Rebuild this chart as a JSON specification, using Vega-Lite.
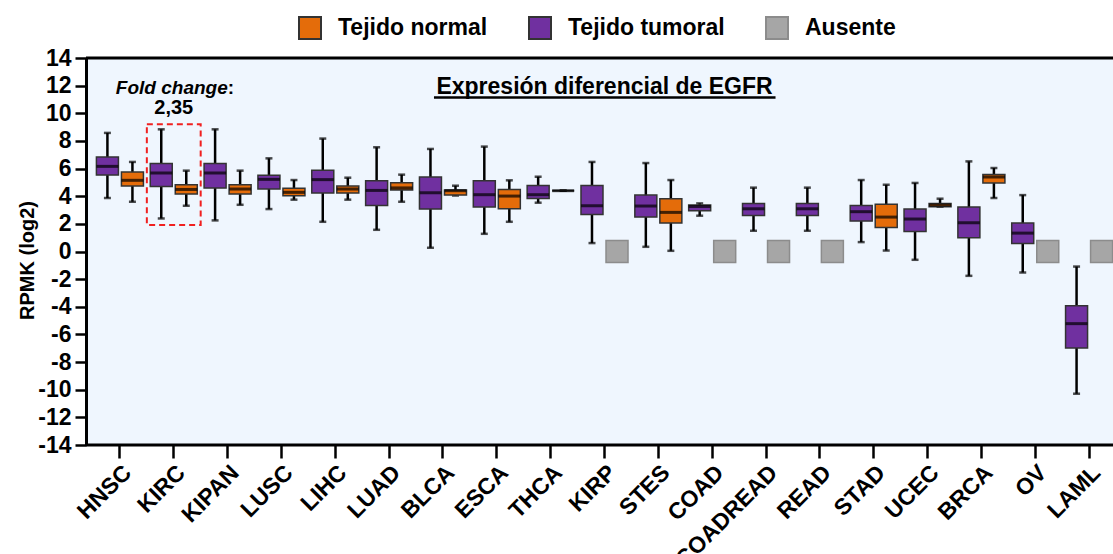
{
  "$schema": "https://vega.github.io/schema/vega-lite/v6.json",
  "width": 1027,
  "height": 387,
  "autosize": {"type": "none"},
  "padding": {"left": 86, "top": 58, "right": 0, "bottom": 109},
  "background": "white",
  "config": {
    "font": "Liberation Sans",
    "view": {"fill": "#EFF6FE", "stroke": null},
    "axisY": {"tickCount": 15, "labelOverlap": false},
    "legend": {
      "orient": "none",
      "legendX": 212,
      "legendY": -42,
      "direction": "horizontal",
      "symbolType": "square",
      "symbolSize": 484,
      "symbolStrokeWidth": 2,
      "symbolOpacity": 1,
      "labelFontSize": 23,
      "labelFontWeight": "bold",
      "labelColor": "black",
      "labelOffset": 16,
      "columnPadding": 37,
      "padding": 0
    }
  },
  "data": {"values": [{}]},
  "datasets": {
    "boxes": [
      {"c": "HNSC", "t": "Tejido tumoral", "lo": 3.87, "q1": 5.53, "med": 6.16, "q3": 6.84, "hi": 8.58},
      {"c": "HNSC", "t": "Tejido normal", "lo": 3.6, "q1": 4.74, "med": 5.15, "q3": 5.75, "hi": 6.48},
      {"c": "KIRC", "t": "Tejido tumoral", "lo": 2.39, "q1": 4.71, "med": 5.68, "q3": 6.36, "hi": 8.84},
      {"c": "KIRC", "t": "Tejido normal", "lo": 3.31, "q1": 4.16, "med": 4.49, "q3": 4.83, "hi": 5.85},
      {"c": "KIPAN", "t": "Tejido tumoral", "lo": 2.25, "q1": 4.59, "med": 5.68, "q3": 6.36, "hi": 8.84},
      {"c": "KIPAN", "t": "Tejido normal", "lo": 3.38, "q1": 4.16, "med": 4.52, "q3": 4.83, "hi": 5.85},
      {"c": "LUSC", "t": "Tejido tumoral", "lo": 3.07, "q1": 4.52, "med": 5.22, "q3": 5.51, "hi": 6.74},
      {"c": "LUSC", "t": "Tejido normal", "lo": 3.75, "q1": 4.04, "med": 4.28, "q3": 4.57, "hi": 5.17},
      {"c": "LIHC", "t": "Tejido tumoral", "lo": 2.15, "q1": 4.23, "med": 5.2, "q3": 5.87, "hi": 8.17},
      {"c": "LIHC", "t": "Tejido normal", "lo": 3.75, "q1": 4.23, "med": 4.52, "q3": 4.74, "hi": 5.34},
      {"c": "LUAD", "t": "Tejido tumoral", "lo": 1.57, "q1": 3.33, "med": 4.42, "q3": 5.12, "hi": 7.54},
      {"c": "LUAD", "t": "Tejido normal", "lo": 3.6, "q1": 4.45, "med": 4.6, "q3": 4.98, "hi": 5.56},
      {"c": "BLCA", "t": "Tejido tumoral", "lo": 0.27, "q1": 3.07, "med": 4.25, "q3": 5.39, "hi": 7.42},
      {"c": "BLCA", "t": "Tejido normal", "lo": 4.05, "q1": 4.08, "med": 4.4, "q3": 4.45, "hi": 4.76},
      {"c": "ESCA", "t": "Tejido tumoral", "lo": 1.28, "q1": 3.22, "med": 4.11, "q3": 5.12, "hi": 7.59},
      {"c": "ESCA", "t": "Tejido normal", "lo": 2.15, "q1": 3.09, "med": 4.01, "q3": 4.49, "hi": 5.15},
      {"c": "THCA", "t": "Tejido tumoral", "lo": 3.53, "q1": 3.84, "med": 4.11, "q3": 4.78, "hi": 5.41},
      {"c": "THCA", "t": "Tejido normal", "lo": 4.4, "q1": 4.4, "med": 4.4, "q3": 4.4, "hi": 4.4},
      {"c": "KIRP", "t": "Tejido tumoral", "lo": 0.61, "q1": 2.68, "med": 3.31, "q3": 4.78, "hi": 6.48},
      {"c": "STES", "t": "Tejido tumoral", "lo": 0.34, "q1": 2.49, "med": 3.29, "q3": 4.08, "hi": 6.4},
      {"c": "STES", "t": "Tejido normal", "lo": 0.05, "q1": 2.06, "med": 2.83, "q3": 3.82, "hi": 5.17},
      {"c": "COAD", "t": "Tejido tumoral", "lo": 2.59, "q1": 2.95, "med": 3.26, "q3": 3.36, "hi": 3.48},
      {"c": "COADREAD", "t": "Tejido tumoral", "lo": 1.5, "q1": 2.61, "med": 3.09, "q3": 3.48, "hi": 4.62},
      {"c": "READ", "t": "Tejido tumoral", "lo": 1.5, "q1": 2.61, "med": 3.09, "q3": 3.48, "hi": 4.62},
      {"c": "STAD", "t": "Tejido tumoral", "lo": 0.68, "q1": 2.2, "med": 2.88, "q3": 3.33, "hi": 5.17},
      {"c": "STAD", "t": "Tejido normal", "lo": 0.07, "q1": 1.74, "med": 2.49, "q3": 3.41, "hi": 4.83},
      {"c": "UCEC", "t": "Tejido tumoral", "lo": -0.6, "q1": 1.45, "med": 2.35, "q3": 3.07, "hi": 4.96},
      {"c": "UCEC", "t": "Tejido normal", "lo": 3.24, "q1": 3.24, "med": 3.36, "q3": 3.48, "hi": 3.82},
      {"c": "BRCA", "t": "Tejido tumoral", "lo": -1.76, "q1": 0.99, "med": 2.08, "q3": 3.22, "hi": 6.52},
      {"c": "BRCA", "t": "Tejido normal", "lo": 3.87, "q1": 4.96, "med": 5.39, "q3": 5.58, "hi": 6.04},
      {"c": "OV", "t": "Tejido tumoral", "lo": -1.52, "q1": 0.58, "med": 1.33, "q3": 2.06, "hi": 4.08},
      {"c": "LAML", "t": "Tejido tumoral", "lo": -10.29, "q1": -6.98, "med": -5.22, "q3": -3.93, "hi": -1.09}
    ],
    "absent": [
      {"c": "KIRP", "t": "Ausente"},
      {"c": "COAD", "t": "Ausente"},
      {"c": "COADREAD", "t": "Ausente"},
      {"c": "READ", "t": "Ausente"},
      {"c": "OV", "t": "Ausente"},
      {"c": "LAML", "t": "Ausente"}
    ]
  },
  "layer": [
    {
      "data": {"name": "boxes"},
      "mark": {"type": "rule", "color": "black", "strokeWidth": 2.5},
      "encoding": {
        "x": {
          "field": "c", "type": "nominal", "sort": null,
          "scale": {
            "domain": ["HNSC","KIRC","KIPAN","LUSC","LIHC","LUAD","BLCA","ESCA","THCA","KIRP","STES","COAD","COADREAD","READ","STAD","UCEC","BRCA","OV","LAML"],
            "range": [7, 1030], "paddingInner": 0, "paddingOuter": 0
          },
          "axis": {
            "title": null, "domain": false, "labelAngle": -45, "labelFontSize": 23, "labelFontWeight": "bold",
            "labelColor": "black", "labelOverlap": false, "tickColor": "black", "tickWidth": 2.5, "tickSize": 13,
            "labelPadding": 3, "bandPosition": 0.5
          }
        },
        "xOffset": {
          "field": "t", "type": "nominal",
          "scale": {"domain": ["Tejido tumoral", "Tejido normal"], "paddingInner": 0, "paddingOuter": 0.076}
        },
        "y": {
          "field": "lo", "type": "quantitative",
          "scale": {"domain": [-14, 14], "nice": false, "zero": false},
          "axis": {
            "values": [-14,-12,-10,-8,-6,-4,-2,0,2,4,6,8,10,12,14],
            "tickCount": 15,
            "labelExpr": "replace(datum.label, '−', '-')",
            "title": "RPMK (log2)", "titleFontSize": 20, "titleFontWeight": "bold", "titleColor": "black",
            "titleX": -49, "titleY": 202, "titleBaseline": "bottom", "titleAlign": "center", "titleAngle": -90,
            "labelFontSize": 23, "labelFontWeight": "bold", "labelColor": "black", "labelOverlap": false,
            "tickColor": "black", "tickWidth": 2.5, "tickSize": 11, "labelPadding": 4,
            "domainColor": "black", "domainWidth": 3, "grid": false
          }
        },
        "y2": {"field": "hi"}
      }
    },
    {
      "data": {"name": "boxes"},
      "mark": {"type": "tick", "color": "black", "size": 7, "thickness": 2.5},
      "encoding": {
        "x": {"field": "c", "type": "nominal"},
        "xOffset": {"field": "t", "type": "nominal"},
        "y": {"field": "lo", "type": "quantitative"}
      }
    },
    {
      "data": {"name": "boxes"},
      "mark": {"type": "tick", "color": "black", "size": 7, "thickness": 2.5},
      "encoding": {
        "x": {"field": "c", "type": "nominal"},
        "xOffset": {"field": "t", "type": "nominal"},
        "y": {"field": "hi", "type": "quantitative"}
      }
    },
    {
      "data": {"name": "boxes"},
      "mark": {"type": "bar", "width": 22, "strokeWidth": 1.5, "opacity": 1},
      "encoding": {
        "x": {"field": "c", "type": "nominal"},
        "xOffset": {"field": "t", "type": "nominal"},
        "y": {"field": "q1", "type": "quantitative"},
        "y2": {"field": "q3"},
        "color": {
          "field": "t", "type": "nominal",
          "scale": {"domain": ["Tejido normal", "Tejido tumoral", "Ausente"], "range": ["#E46C0A", "#7030A0", "#A6A6A6"]},
          "legend": {"title": null}
        },
        "stroke": {
          "field": "t", "type": "nominal",
          "scale": {"domain": ["Tejido normal", "Tejido tumoral", "Ausente"], "range": ["#333333", "#333333", "#8C8C8C"]},
          "legend": {"title": null}
        }
      }
    },
    {
      "data": {"name": "boxes"},
      "mark": {"type": "tick", "color": "black", "size": 22, "thickness": 3},
      "encoding": {
        "x": {"field": "c", "type": "nominal"},
        "xOffset": {"field": "t", "type": "nominal"},
        "y": {"field": "med", "type": "quantitative"}
      }
    },
    {
      "data": {"name": "absent"},
      "mark": {"type": "square", "size": 484, "filled": true, "opacity": 1, "strokeWidth": 1.5},
      "encoding": {
        "x": {"field": "c", "type": "nominal"},
        "xOffset": {"datum": "Tejido normal"},
        "y": {"datum": 0},
        "color": {"field": "t", "type": "nominal"},
        "stroke": {"field": "t", "type": "nominal"}
      }
    },
    {
      "mark": {"type": "rule", "color": "black", "strokeWidth": 3},
      "encoding": {"y": {"datum": 14}}
    },
    {
      "mark": {"type": "rule", "color": "black", "strokeWidth": 3},
      "encoding": {"y": {"datum": -14}}
    },
    {
      "mark": {"type": "rect", "fill": "transparent", "stroke": "#F02020", "strokeWidth": 2, "strokeDash": [6, 4]},
      "encoding": {
        "x": {"datum": "KIRC"},
        "y": {"datum": 9.2},
        "y2": {"datum": 1.92}
      }
    },
    {
      "mark": {"type": "text", "text": "Expresión diferencial de EGFR", "fontSize": 23, "fontWeight": "bold", "color": "black", "align": "center", "baseline": "alphabetic"},
      "encoding": {"x": {"datum": "KIRP"}, "y": {"datum": 11.37}}
    },
    {
      "mark": {"type": "rule", "color": "black", "strokeWidth": 2.5, "xOffset": -9, "x2Offset": 9.5},
      "encoding": {"x": {"datum": "BLCA"}, "x2": {"datum": "COADREAD"}, "y": {"datum": 11.14}}
    },
    {
      "mark": {"type": "text", "text": "Fold change", "fontSize": 19, "fontWeight": "bold", "fontStyle": "italic", "color": "black", "align": "right", "baseline": "middle", "dx": 54},
      "encoding": {"x": {"datum": "KIRC"}, "y": {"datum": 11.83}}
    },
    {
      "mark": {"type": "text", "text": ":", "fontSize": 19, "fontWeight": "bold", "color": "black", "align": "left", "baseline": "middle", "dx": 54},
      "encoding": {"x": {"datum": "KIRC"}, "y": {"datum": 11.83}}
    },
    {
      "mark": {"type": "text", "text": "2,35", "fontSize": 20, "fontWeight": "bold", "color": "black", "align": "center", "baseline": "middle"},
      "encoding": {"x": {"datum": "KIRC"}, "y": {"datum": 10.38}}
    }
  ]
}
